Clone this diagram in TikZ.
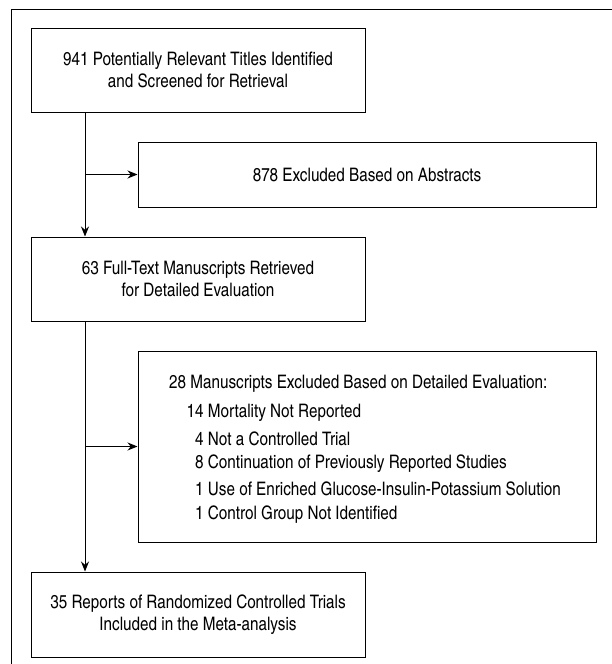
\documentclass[tikz,border=0pt]{standalone}
\usepackage{fontspec}
\setmainfont{texgyreheroscn}[Extension=.otf, UprightFont=*-regular, BoldFont=*-bold]
\usetikzlibrary{arrows.meta}
\begin{document}
\begin{tikzpicture}[x=1pt,y=-1pt,
  every node/.style={font=\fontsize{18.6}{21.5}\selectfont},
  box/.style={draw=black, line width=1pt, inner sep=0pt, align=center},
  line/.style={draw=black, line width=1pt},
  arr/.style={line, -{Stealth[length=10pt,width=8pt]}},
  item/.style={anchor=west, inner sep=0pt}]
\useasboundingbox (0,0) rectangle (612,664);
\draw[line width=1pt] (11,9) rectangle (660,720);
\node[box, minimum width=334pt, minimum height=84pt] (b1) at (198,70)
  {941 Potentially Relevant Titles Identified\\and Screened for Retrieval};
\node[box, minimum width=458pt, minimum height=65pt] (b2) at (367,174.5)
  {878 Excluded Based on Abstracts};
\node[box, minimum width=334pt, minimum height=84pt] (b3) at (198,279)
  {63 Full-Text Manuscripts Retrieved\\for Detailed Evaluation};
\node[box, minimum width=458pt, minimum height=191pt] (b4) at (367,446.5) {};
\node[box, minimum width=334pt, minimum height=85pt] (b5) at (198,614.5)
  {35 Reports of Randomized Controlled Trials\\Included in the Meta-analysis};
\node[item] (h) at (169,384) {28 Manuscripts Excluded Based on Detailed Evaluation:};
\node[item] (i1) at (186.5,413) {14 Mortality Not Reported};
\node[item] (i2) at (195,439) {4 Not a Controlled Trial};
\node[item] (i3) at (195,464) {8 Continuation of Previously Reported Studies};
\node[item] (i4) at (195,489) {1 Use of Enriched Glucose-Insulin-Potassium Solution};
\node[item] (i5) at (195,515) {1 Control Group Not Identified};
\coordinate (t1) at (85,112);
\coordinate (j1) at (85,174.5);
\coordinate (t3) at (85,321);
\coordinate (j2) at (85,446.5);
\draw[arr] (t1) -- (t1 |- b3.north);
\draw[arr] (j1) -- (b2.west);
\draw[arr] (t3) -- (t3 |- b5.north);
\draw[arr] (j2) -- (b4.west);
\end{tikzpicture}
\end{document}
